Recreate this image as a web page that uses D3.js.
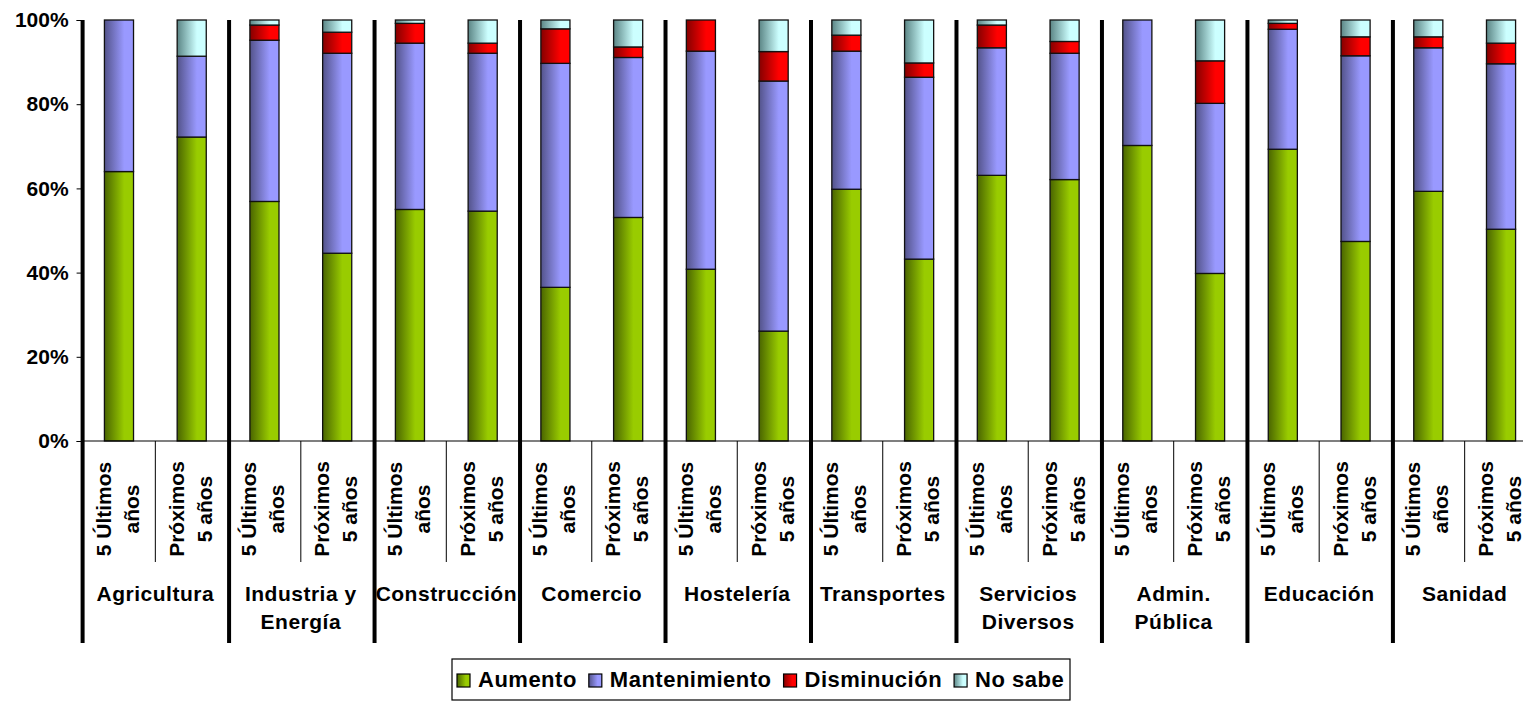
<!DOCTYPE html>
<html><head><meta charset="utf-8">
<script src="https://cdn.jsdelivr.net/npm/d3@7"></script>
<style>
body{margin:0;background:#fff}
svg{display:block}
text{font-family:"Liberation Sans",Arial,sans-serif;font-weight:bold;fill:#000}
</style></head>
<body><svg id="c" width="1523" height="701"></svg>
<script>
// ---- data ----
const sectorLines=[["Agricultura"],["Industria y","Energía"],["Construcción"],["Comercio"],["Hostelería"],["Transportes"],["Servicios","Diversos"],["Admin.","Pública"],["Educación"],["Sanidad"]];
const periodLines=[["5 Últimos","años"],["Próximos","5 años"]];
const seriesNames=["Aumento","Mantenimiento","Disminución","No sabe"];
const aumento      =[64.0,72.2,56.9,44.6,55.0,54.6,36.5,53.1,40.8,26.1,59.8,43.2,63.1,62.1,70.2,39.8,69.3,47.4,59.3,50.3];
const mantenimiento=[36.0,19.2,38.3,47.5,39.5,37.5,53.2,38.0,51.8,59.4,32.8,43.2,30.3,30.0,29.8,40.4,28.5,44.1,34.1,39.3];
const disminucion  =[ 0.0, 0.0, 3.6, 5.0, 4.7, 2.4, 8.2, 2.5, 7.4, 7.0, 3.8, 3.4, 5.4, 2.8, 0.0,10.1, 1.4, 4.5, 2.6, 4.9];
const noSabe       =[ 0.0, 8.6, 1.2, 2.9, 0.8, 5.5, 2.1, 6.4, 0.0, 7.5, 3.6,10.2, 1.2, 5.1, 0.0, 9.7, 0.8, 4.0, 4.0, 5.5];
const yTicks=[0,20,40,60,80,100];

// ---- setup ----
const svg=d3.select("#c");
const colors={
  "Aumento":["#4a6500","#99cc00"],
  "Mantenimiento":["#53538a","#9999ff"],
  "Disminución":["#850000","#ff0000"],
  "No sabe":["#5b8585","#ccffff"]
};
const defs=svg.append("defs");
seriesNames.forEach((s,i)=>{
  const g=defs.append("linearGradient").attr("id","g"+i).attr("x1",0).attr("x2",1).attr("y1",0).attr("y2",0);
  g.append("stop").attr("offset","0%").attr("stop-color",colors[s][0]);
  g.append("stop").attr("offset","68%").attr("stop-color",colors[s][1]);
  g.append("stop").attr("offset","100%").attr("stop-color",colors[s][1]);
});

const values={"Aumento":aumento,"Mantenimiento":mantenimiento,"Disminución":disminucion,"No sabe":noSabe};
const rows=aumento.map((_,i)=>{
  const r={id:i,sector:Math.floor(i/2),period:i%2};
  seriesNames.forEach(s=>r[s]=values[s][i]);
  return r;
});
const stacked=d3.stack().keys(seriesNames)(rows);

const x0=82.6,x1=1537.4,yTop=20,yBot=441;
const x=d3.scaleBand().domain(rows.map(r=>r.id)).range([x0,x1]).paddingInner(0.6).paddingOuter(0.3);
const slot=d3.scaleLinear().domain([0,rows.length]).range([x0,x1]);
const y=d3.scaleLinear().domain([0,100]).range([yBot,yTop]);

// bars
stacked.forEach((layer,li)=>{
  svg.append("g").selectAll("rect").data(layer.filter(d=>d[1]-d[0]>0.001)).join("rect")
    .attr("x",d=>x(d.data.id)).attr("width",x.bandwidth())
    .attr("y",d=>y(d[1])).attr("height",d=>y(d[0])-y(d[1]))
    .attr("fill","url(#g"+li+")").attr("stroke","#111").attr("stroke-width",1.3);
});

// y axis
const ya=svg.append("g").attr("transform",`translate(${x0},0)`)
  .call(d3.axisLeft(y).tickValues(yTicks).tickFormat(d=>d+"%").tickSize(6).tickPadding(8));
ya.select(".domain").attr("stroke","#000").attr("stroke-width",1.2);
ya.selectAll(".tick line").attr("stroke","#000");
ya.selectAll("text").style("font-size","21px").style("font-family","'Liberation Sans',Arial,sans-serif").style("font-weight","bold");

// x axis baseline
svg.append("line").attr("x1",x0).attr("x2",1523).attr("y1",yBot).attr("y2",yBot).attr("stroke","#000").attr("stroke-width",1.2);
// thin dividers between periods
svg.append("g").selectAll("line").data(d3.range(1,rows.length,2)).join("line")
  .attr("x1",d=>slot(d)).attr("x2",d=>slot(d)).attr("y1",yBot).attr("y2",562)
  .attr("stroke","#000").attr("stroke-width",1);
// thick group separators
svg.append("g").selectAll("line").data(d3.range(0,rows.length,2)).join("line")
  .attr("x1",d=>slot(d)+(d?1:0)).attr("x2",d=>slot(d)+(d?1:0)).attr("y1",20).attr("y2",643)
  .attr("stroke","#000").attr("stroke-width",4);

// period labels (rotated)
const pl=svg.append("g");
rows.forEach(r=>{
  const cx=x(r.id)+x.bandwidth()/2;
  periodLines[r.period].forEach((t,j)=>{
    pl.append("text").attr("transform",`translate(${cx-8+28*j},509) rotate(-90)`)
      .attr("text-anchor","middle").style("font-size","21px").text(t);
  });
});
// sector labels
const sl=svg.append("g");
sectorLines.forEach((lines,k)=>{
  const cx=(slot(2*k)+slot(2*k+2))/2;
  lines.forEach((t,j)=>{
    sl.append("text").attr("x",cx).attr("y",601+28*j).attr("text-anchor","middle")
      .style("font-size","21px").style("letter-spacing","0.5px").text(t);
  });
});

// legend
const lg=svg.append("g");
lg.append("rect").attr("x",452).attr("y",659).attr("width",618).attr("height",41)
  .attr("fill","#fff").attr("stroke","#000").attr("stroke-width",1.2);
let lx=457;
seriesNames.forEach((s,i)=>{
  lg.append("rect").attr("x",lx).attr("y",674).attr("width",13).attr("height",13)
    .attr("fill","url(#g"+i+")").attr("stroke","#000").attr("stroke-width",1.2);
  const t=lg.append("text").attr("x",lx+21).attr("y",687).style("font-size","22px").style("letter-spacing","0.5px").text(s);
  lx+=21+t.node().getComputedTextLength()+12;
});
</script></body></html>
